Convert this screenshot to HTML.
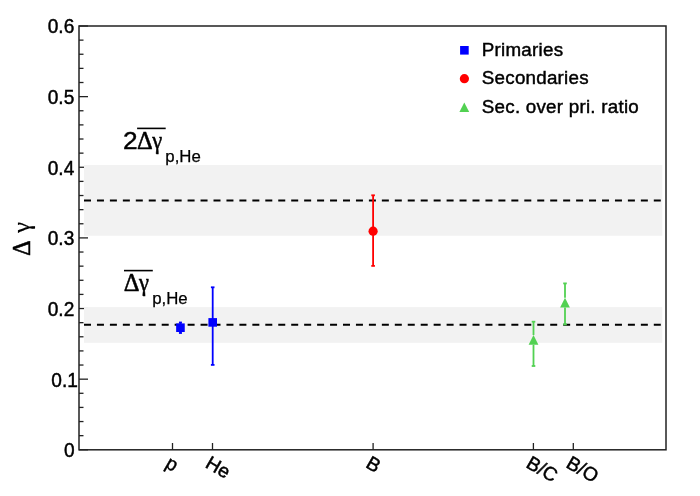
<!DOCTYPE html>
<html><head><meta charset="utf-8"><title>Delta gamma</title>
<style>
html,body{margin:0;padding:0;background:#fff;}
body{width:700px;height:496px;overflow:hidden;}
svg{display:block;font-family:"Liberation Sans", Arial, Helvetica, sans-serif;will-change:transform;}
text{stroke:#000;stroke-width:0.45px;}
text.sub{stroke-width:0.25px;}
text.gr{stroke-width:0.5px;}
</style></head><body>
<svg width="700" height="496" viewBox="0 0 700 496" fill="#000">
<rect width="700" height="496" fill="#fff"/>
<rect x="79.0" y="26.0" width="587.0" height="423.8" fill="none" stroke="#222" stroke-width="1.5"/>
<line x1="79.0" y1="449.80" x2="88.0" y2="449.80" stroke="#222" stroke-width="1.3"/>
<line x1="79.0" y1="435.67" x2="83.5" y2="435.67" stroke="#222" stroke-width="1.3"/>
<line x1="79.0" y1="421.55" x2="83.5" y2="421.55" stroke="#222" stroke-width="1.3"/>
<line x1="79.0" y1="407.42" x2="83.5" y2="407.42" stroke="#222" stroke-width="1.3"/>
<line x1="79.0" y1="393.29" x2="83.5" y2="393.29" stroke="#222" stroke-width="1.3"/>
<line x1="79.0" y1="379.17" x2="88.0" y2="379.17" stroke="#222" stroke-width="1.3"/>
<line x1="79.0" y1="365.04" x2="83.5" y2="365.04" stroke="#222" stroke-width="1.3"/>
<line x1="79.0" y1="350.91" x2="83.5" y2="350.91" stroke="#222" stroke-width="1.3"/>
<line x1="79.0" y1="336.79" x2="83.5" y2="336.79" stroke="#222" stroke-width="1.3"/>
<line x1="79.0" y1="322.66" x2="83.5" y2="322.66" stroke="#222" stroke-width="1.3"/>
<line x1="79.0" y1="308.53" x2="88.0" y2="308.53" stroke="#222" stroke-width="1.3"/>
<line x1="79.0" y1="294.41" x2="83.5" y2="294.41" stroke="#222" stroke-width="1.3"/>
<line x1="79.0" y1="280.28" x2="83.5" y2="280.28" stroke="#222" stroke-width="1.3"/>
<line x1="79.0" y1="266.15" x2="83.5" y2="266.15" stroke="#222" stroke-width="1.3"/>
<line x1="79.0" y1="252.03" x2="83.5" y2="252.03" stroke="#222" stroke-width="1.3"/>
<line x1="79.0" y1="237.90" x2="88.0" y2="237.90" stroke="#222" stroke-width="1.3"/>
<line x1="79.0" y1="223.77" x2="83.5" y2="223.77" stroke="#222" stroke-width="1.3"/>
<line x1="79.0" y1="209.65" x2="83.5" y2="209.65" stroke="#222" stroke-width="1.3"/>
<line x1="79.0" y1="195.52" x2="83.5" y2="195.52" stroke="#222" stroke-width="1.3"/>
<line x1="79.0" y1="181.39" x2="83.5" y2="181.39" stroke="#222" stroke-width="1.3"/>
<line x1="79.0" y1="167.27" x2="88.0" y2="167.27" stroke="#222" stroke-width="1.3"/>
<line x1="79.0" y1="153.14" x2="83.5" y2="153.14" stroke="#222" stroke-width="1.3"/>
<line x1="79.0" y1="139.01" x2="83.5" y2="139.01" stroke="#222" stroke-width="1.3"/>
<line x1="79.0" y1="124.89" x2="83.5" y2="124.89" stroke="#222" stroke-width="1.3"/>
<line x1="79.0" y1="110.76" x2="83.5" y2="110.76" stroke="#222" stroke-width="1.3"/>
<line x1="79.0" y1="96.63" x2="88.0" y2="96.63" stroke="#222" stroke-width="1.3"/>
<line x1="79.0" y1="82.51" x2="83.5" y2="82.51" stroke="#222" stroke-width="1.3"/>
<line x1="79.0" y1="68.38" x2="83.5" y2="68.38" stroke="#222" stroke-width="1.3"/>
<line x1="79.0" y1="54.25" x2="83.5" y2="54.25" stroke="#222" stroke-width="1.3"/>
<line x1="79.0" y1="40.13" x2="83.5" y2="40.13" stroke="#222" stroke-width="1.3"/>
<line x1="79.0" y1="26.00" x2="88.0" y2="26.00" stroke="#222" stroke-width="1.3"/>
<rect x="84" y="165.01" width="578.3" height="70.77" fill="#f2f2f2"/>
<rect x="84" y="307.12" width="578.3" height="35.67" fill="#f2f2f2"/>
<line x1="84" y1="200.5" x2="661" y2="200.5" stroke="#000" stroke-width="2" stroke-dasharray="7.0 5.95"/>
<line x1="84" y1="324.8" x2="661" y2="324.8" stroke="#000" stroke-width="2" stroke-dasharray="7.0 5.95"/>
<text text-anchor="end" font-size="19.5" transform="translate(74.7,457.43) scale(0.98,1)">0</text>
<text text-anchor="end" font-size="19.5" transform="translate(77.9,386.50) scale(0.98,1)">0.1</text>
<text text-anchor="end" font-size="19.5" transform="translate(74.3,315.86) scale(0.98,1)">0.2</text>
<text text-anchor="end" font-size="19.5" transform="translate(74.3,245.23) scale(0.98,1)">0.3</text>
<text text-anchor="end" font-size="19.5" transform="translate(74.3,174.60) scale(0.98,1)">0.4</text>
<text text-anchor="end" font-size="19.5" transform="translate(74.3,103.96) scale(0.98,1)">0.5</text>
<text text-anchor="end" font-size="19.5" transform="translate(74.3,33.33) scale(0.98,1)">0.6</text>
<line x1="172.5" y1="449.8" x2="172.5" y2="443" stroke="#222" stroke-width="1.3"/>
<line x1="212.5" y1="449.8" x2="212.5" y2="443" stroke="#222" stroke-width="1.3"/>
<line x1="373.1" y1="449.8" x2="373.1" y2="443" stroke="#222" stroke-width="1.3"/>
<line x1="533.4" y1="449.8" x2="533.4" y2="443" stroke="#222" stroke-width="1.3"/>
<line x1="573.3" y1="449.8" x2="573.3" y2="443" stroke="#222" stroke-width="1.3"/>
<text x="0" y="0" font-size="19.2" transform="translate(164.2,466.7) rotate(30)">p</text>
<text x="0" y="0" font-size="19.2" transform="translate(204.2,466.7) rotate(30)">He</text>
<text x="0" y="0" font-size="19.2" transform="translate(364.8,466.7) rotate(30)">B</text>
<text x="0" y="0" font-size="19.2" transform="translate(525.1,466.7) rotate(30)">B/C</text>
<text x="0" y="0" font-size="19.2" transform="translate(565.0,466.7) rotate(30)">B/O</text>
<text font-size="24.5" transform="translate(29.8,256.1) rotate(-90)" font-family='"Liberation Serif", "Times New Roman", serif' class="gr">Δ</text>
<text font-size="24.5" transform="translate(29.8,233.0) rotate(-90) scale(1.02,1)" font-family='"Liberation Serif", "Times New Roman", serif' class="gr" style="stroke-width:0.15px">γ</text>
<text font-size="24.5" transform="translate(122.9,148.65) scale(1.07,1)">2</text>
<text x="137.1" y="148.6" font-size="24.5" font-family='"Liberation Serif", "Times New Roman", serif' class="gr">Δ</text><text font-size="24.5" transform="translate(152.3,148.9) scale(0.92,1)" font-family='"Liberation Serif", "Times New Roman", serif' class="gr">γ</text>
<line x1="137.1" y1="128.4" x2="165.7" y2="128.4" stroke="#000" stroke-width="1.6"/>
<text x="165.3" y="162.1" font-size="16.8" class="sub">p,He</text>
<text x="123.8" y="290.7" font-size="24.5" font-family='"Liberation Serif", "Times New Roman", serif' class="gr">Δ</text><text font-size="24.5" transform="translate(139.0,291.0) scale(0.92,1)" font-family='"Liberation Serif", "Times New Roman", serif' class="gr">γ</text>
<line x1="124" y1="270.6" x2="152.8" y2="270.6" stroke="#000" stroke-width="1.6"/>
<text x="152.2" y="303.7" font-size="16.8" class="sub">p,He</text>
<line x1="180.45" y1="322.5" x2="180.45" y2="333.0" stroke="#0000ff" stroke-width="1.8"/><line x1="178.95" y1="322.5" x2="181.95" y2="322.5" stroke="#0000ff" stroke-width="1.8"/><line x1="178.95" y1="333.0" x2="181.95" y2="333.0" stroke="#0000ff" stroke-width="1.8"/>
<rect x="176.15" y="323.4" width="8.6" height="8.6" fill="#0000ff"/>
<line x1="212.7" y1="287.3" x2="212.7" y2="364.9" stroke="#0000ff" stroke-width="1.8"/><line x1="210.9" y1="287.3" x2="214.5" y2="287.3" stroke="#0000ff" stroke-width="1.8"/><line x1="210.9" y1="364.9" x2="214.5" y2="364.9" stroke="#0000ff" stroke-width="1.8"/>
<rect x="208.4" y="318.1" width="8.6" height="8.6" fill="#0000ff"/>
<line x1="373.1" y1="195.3" x2="373.1" y2="265.9" stroke="#ff0000" stroke-width="1.8"/><line x1="371.3" y1="195.3" x2="374.9" y2="195.3" stroke="#ff0000" stroke-width="1.8"/><line x1="371.3" y1="265.9" x2="374.9" y2="265.9" stroke="#ff0000" stroke-width="1.8"/>
<circle cx="373.1" cy="231.2" r="4.6" fill="#ff0000"/>
<line x1="533.5" y1="321.7" x2="533.5" y2="335.0" stroke="#52d152" stroke-width="1.8"/><line x1="533.5" y1="344.8" x2="533.5" y2="366.0" stroke="#52d152" stroke-width="1.8"/><line x1="531.7" y1="321.7" x2="535.3" y2="321.7" stroke="#52d152" stroke-width="1.8"/><line x1="531.7" y1="366.0" x2="535.3" y2="366.0" stroke="#52d152" stroke-width="1.8"/><polygon points="528.6,344.8 538.4,344.8 533.5,335.0" fill="#52d152"/>
<line x1="565.0" y1="283.4" x2="565.0" y2="297.7" stroke="#52d152" stroke-width="1.8"/><line x1="565.0" y1="307.5" x2="565.0" y2="324.4" stroke="#52d152" stroke-width="1.8"/><line x1="563.2" y1="283.4" x2="566.8" y2="283.4" stroke="#52d152" stroke-width="1.8"/><line x1="563.2" y1="324.4" x2="566.8" y2="324.4" stroke="#52d152" stroke-width="1.8"/><polygon points="560.1,307.5 569.9,307.5 565.0,297.7" fill="#52d152"/>
<rect x="460.1" y="46.0" width="8.6" height="8.6" fill="#0000ff"/>
<circle cx="464.4" cy="78.7" r="4.6" fill="#ff0000"/>
<polygon points="459.4,112.0 469.2,112.0 464.3,102.4" fill="#52d152"/>
<text x="481.8" y="56.4" font-size="18.8" letter-spacing="0.24">Primaries</text>
<text x="481.8" y="84.4" font-size="18.8" letter-spacing="0.24">Secondaries</text>
<text x="481.8" y="113.0" font-size="18.8" letter-spacing="0.24">Sec. over pri. ratio</text>
</svg>
</body></html>
